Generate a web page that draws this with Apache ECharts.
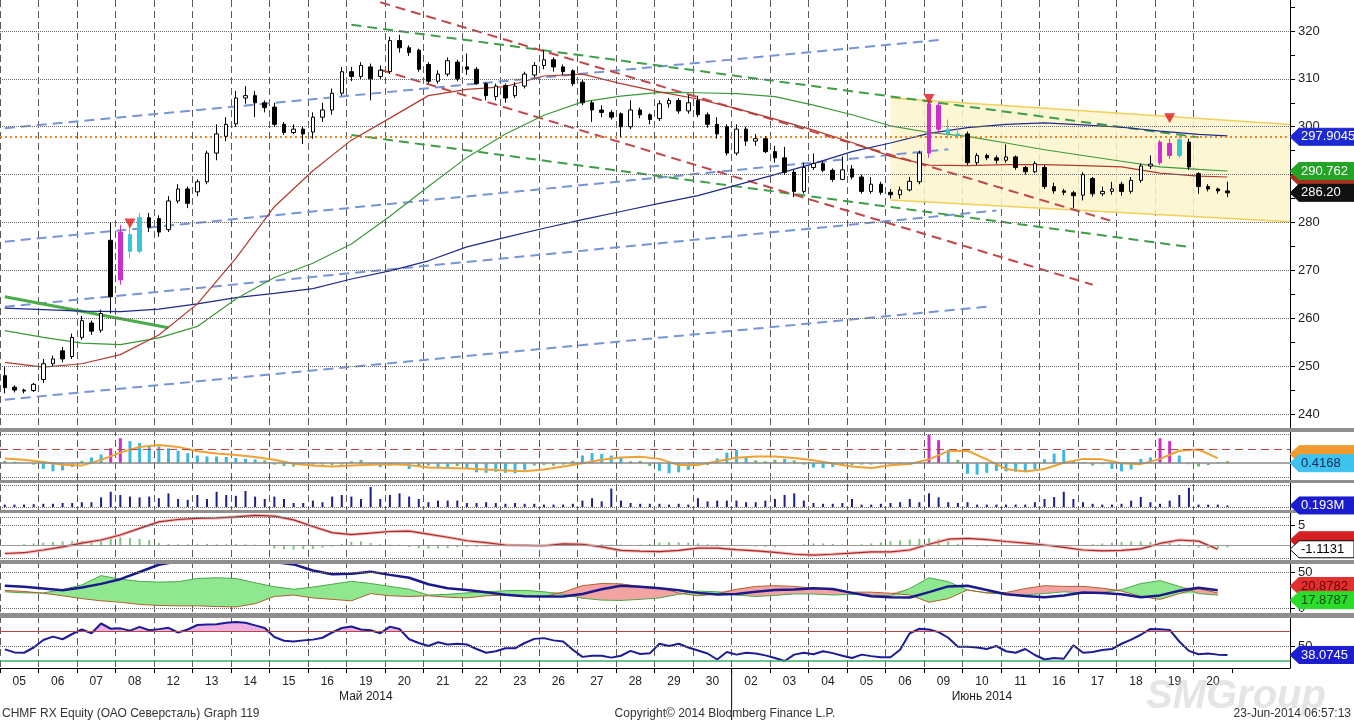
<!DOCTYPE html>
<html><head><meta charset="utf-8">
<script src="https://cdn.jsdelivr.net/npm/echarts@6/dist/echarts.min.js"></script>
<style>html,body{margin:0;padding:0;background:#fff}#c{width:1354px;height:723px}</style>
</head><body><div id="c"></div>
<script>
// ---------------- DATA ----------------
const dayLabels = ['05','06','07','08','12','13','14','15','16','19','20','21','22','23','26','27','28','29','30','02','03','04','05','06','09','10','11','16','17','18','19','20'];
const monthLabels = ['Май 2014','Июнь 2014'];
const monthStartDay = [0, 19];
const priceTicks = [240,250,260,270,280,290,300,310,320];
const oscTicks = [5];
const dmiTicks = [0, 50];
const rsiTicks = [50];

// 4 bars per trading day: [open, close, low, high]
const candles = [
[248,245.5,244.3,249.8],[245.6,245,244.5,246],[245,244.8,244.3,245.3],[244.9,246.2,244.6,246.5],
[247.2,250.5,246.5,251.5],[250.5,251.5,250,252.2],[253.2,251.5,250.8,254],[252,256,251.5,256.8],
[256,259.5,255.5,260.5],[259,257.3,256.5,259.5],[257.5,261,257,261.8],[276.3,264.5,261,280],
[268,278,267,279.5],[277.5,274,272.5,279],[274,281,273.5,282],[281,279,278,282],
[280.8,278,277,281.5],[278.5,284.5,278,285.5],[284.5,287,284,288],[287,284,283,287.5],
[286.4,288.5,285.5,289],[288.5,294.5,288,295],[294.5,298.5,293,300.5],[298,300.5,297,302],
[300.6,306,300,307.5],[306,306.5,304.8,308.5],[306.5,305,302,307.5],[305,304,303,305.5],
[304.1,300.5,300,305],[300.5,298.8,298.3,301],[298.8,299.5,298.5,300.5],[299.5,298.5,296.4,300],
[298.9,302,297.5,303],[302,303.5,301,305],[303.5,307,302.5,308],[307,311.5,306.5,312.5],
[311.5,310.5,309.5,312.5],[310.5,312.8,310,313.5],[312.5,310,305.5,313.2],[310.5,311.8,310,312.8],
[311.5,318,311,318.8],[318,316.5,315.5,319.2],[316.5,315.5,314.8,317],[316,312,311.5,316.3],
[313,309.5,309,313.5],[309.5,311,309,311.8],[311,313.8,310.5,314.5],[313.5,310,309.5,314],
[312.5,312,310.8,315.3],[312,309,308.8,312.5],[309,306.5,305.5,309.3],[306.3,308.5,305.5,309],
[308.6,306,305,309],[306.5,308.5,306,309.3],[308.5,311,308,311.5],[310.8,312.8,310.3,313.5],
[312.8,314,312,316],[314,312.5,311.5,314.5],[312.5,311.5,310.8,313],[311.7,309,308.5,312],
[309.3,305,304.5,309.8],[305,303.5,301,305.5],[303.5,303,302,304.5],[303,302,301.5,303.5],
[302.7,300,297.9,303],[300,303.5,299.5,305.5],[303.5,302.5,301.8,304],[302.5,301.5,300.5,302.8],
[301.7,304.8,301.2,305.5],[304.8,305.5,304,306],[305.5,303.3,302.7,306],[303.3,305,302.7,306.6],
[305.5,302.5,302,306.5],[302.5,300.5,299.8,303],[300.5,298.5,297.5,302],[300,294.5,294,300.5],
[294.5,299.5,294,300.5],[299.5,297,296,300],[297,297.5,296,298.5],[297.5,294.8,294.5,298],
[294.8,293.5,292.5,296],[293.5,290.5,290,295.8],[290.5,286.5,285.3,291],[286.5,291.5,286,292.5],
[291.5,292.3,291,294.4],[292.3,290.9,290.5,292.8],[290.9,289,288.5,291.3],[289,291,288.8,293.8],
[291.2,289.5,289,292],[289.5,286.5,286,290],[286.5,288,286,289.5],[288,286.3,285.8,288.5],
[286.3,285.8,285,287],[285.8,286.8,285,287.5],[286.8,288.6,286.5,289.5],[288.5,294.5,288,295],
[294.5,304.8,293.5,305.5],[304.5,299.5,298.5,305],[299.5,298.5,297.5,301.5],[298.5,298.2,297.5,300],
[298.5,292.5,292,299],[292.5,294,292,294.5],[294,293.5,293,294.4],[293.5,293,292.3,294],
[293,293.7,292.5,296.3],[293.7,291.5,291,294],[291.5,290.6,290,291.8],[290.6,292.3,290.3,292.8],
[291.5,287.5,287,292],[287.5,286.6,286,288.3],[286.6,286.3,285.7,287],[286.2,285.6,283,286.6],
[285.7,290,284.6,290.5],[289.2,286,285.4,289.5],[286,286.5,285.5,287.5],[286.5,287,285.8,288.5],
[288,286.5,285.6,288.5],[286.5,288.8,286,289.5],[288.8,291.8,288.3,292.3],[291.8,292.2,291.2,294],
[292.5,296.8,292,297.2],[296.5,294,293.3,297.5],[294,297.3,293.5,298.3],[296.8,291.6,291,297.5],
[290.2,287.5,286,290.5],[287.5,287,286.5,288],[287,286.6,286,287.3],[286.6,286.2,285.3,288.5]
];
const magentaIdx = [12, 96, 97, 120, 121];
const cyanIdx = [13, 14, 98, 99, 122];
const signalMarks = [[13, 279.8], [96, 305.8], [121, 301.8]];

// moving averages, one value per day (+ final value)
const redMA   = [250.8,249.8,250.5,252.4,256.5,263,272.5,283.3,290.8,297.2,301.8,306.5,307.8,308.4,310.6,311,309,307.3,305.8,303.8,301.6,299.3,296.7,293.8,292,291.9,292.1,292.1,291.9,291.6,290.3,289.7,289.5];
const greenMA = [257.4,256,254.8,254.5,255.9,258.3,264,268.5,271.5,275.5,281.3,287.5,293.6,298.5,302.4,305.2,306.4,307.2,307.1,306.9,306.3,304.5,302.5,300.2,298.8,298,296.6,295.2,294,292.8,291.6,291.1,290.762];
const navyMA  = [262.1,261.8,261.5,261.4,261.9,263,264.3,265.2,266.2,268.2,269.9,272,274.9,276.9,278.8,280.6,282.3,284,285.6,287.8,290,292.3,294.8,296.6,298.6,299.8,300.5,300.8,300.4,299.9,299.1,298.4,298.1];
const levelLine = 297.9045;

// trend lines [[bar, price],[bar, price]]
const blueLines = [
  [[0,299.7],[97,318.1]],
  [[0,276.0],[98,295.3]],
  [[0,262.4],[103,282.5]],
  [[0,243.0],[102,262.4]]
];
const greenLines = [
  [[36,321.3],[124,297.8]],
  [[36,298.3],[123,274.9]]
];
const redLines = [
  [[39,326.0],[115,280.3]],
  [[39,311.9],[113,267.0]]
];
const greenSolidLine = [[0,264.5],[17,258.0]];
const channelTop = [[92,306.0],[134,300.4]];
const channelBottom = [[92,284.7],[134,280.1]];

// panel 2: histogram per bar, signal per half day
const macdHist = [0.5,0.3,0.1,-0.3,-1.2,-1.7,-1.5,-0.8,0.5,1.2,
1.8,3.1,5.2,4.6,4.2,3.8,3.5,3.1,2.6,2.1,
1.6,1.4,1.4,1.3,1.1,0.9,0.8,0.6,-0.3,-0.6,
-0.7,-0.4,-0.3,-0.3,-0.4,-0.3,0.4,0.7,-0.3,-0.8,
-0.5,-0.4,-1.2,-0.6,-0.5,-0.8,-1.1,-0.6,-1.2,-1.9,
-2.0,-1.8,-2.0,-2.1,-1.4,-0.5,-0.4,-0.5,-0.3,0.5,
1.6,2.1,1.9,1.6,1.1,0.4,0.5,-0.6,-1.6,-2.1,
-1.9,-1.4,-0.6,-0.4,1.0,2.2,2.8,1.3,0.6,0.4,
0.7,0.9,0.6,-0.3,-0.9,-1.0,-0.8,-0.6,-0.4,-0.3,
-0.3,-0.2,-0.3,-0.3,-0.4,0.3,5.9,4.8,2.8,0.7,
-2.2,-2.4,-2.0,-1.6,-1.7,-1.8,-1.7,-1.2,0.8,2.0,
2.8,0.6,0.2,-0.5,-0.2,-1.2,-1.7,-1.3,0.9,1.2,
5.2,4.6,1.6,-0.2,-0.7,-0.4,0.2,0.4168];
const macdSignal = [1.0,0.7,0.25,-0.3,-0.5,0.7,2.2,3.4,3.8,3.4,
2.5,2.0,1.7,1.3,0.7,-0.1,-0.5,-0.7,-0.5,-0.3,
-0.2,-0.4,-0.9,-1.0,-1.1,-1.3,-1.5,-1.7,-1.3,-0.7,
0.0,0.7,1.2,1.35,0.9,-0.4,-0.4,0.4,1.15,1.4,
1.4,1.1,0.6,-0.05,-0.7,-1.0,-0.45,-0.15,0.8,2.5,
2.6,0.8,-1.2,-1.75,-1.2,0.1,0.9,0.8,0.0,-0.2,
0.9,2.6,2.85,1.05];

// panel 3: volume (millions) per bar
const volume = [0.3,0.3,0.3,0.35,0.4,0.4,0.5,0.5,0.6,0.6,
1.2,1.9,1.5,1.3,1.2,1.3,1.1,1.7,1.0,0.9,
1.5,1.0,1.9,1.5,1.4,2.0,1.3,1.0,1.3,1.0,
0.5,0.5,0.8,0.6,1.3,1.5,1.3,1.0,2.5,1.0,
1.5,1.7,1.3,1.0,0.6,0.8,0.8,0.8,0.5,0.5,
0.6,0.5,0.4,0.5,0.4,0.4,0.3,0.3,0.3,0.4,
0.8,1.1,0.7,2.3,0.8,0.5,0.4,0.4,0.4,0.3,
0.4,0.3,1.1,0.7,0.8,0.8,0.8,0.6,0.6,0.8,
1.0,1.5,1.7,0.8,0.5,0.4,0.4,0.5,1.0,0.3,
0.3,0.4,0.5,0.6,1.0,0.6,1.7,1.2,0.6,0.5,
0.6,0.3,0.3,0.3,0.3,0.3,0.3,0.6,1.0,1.25,
1.9,1.0,0.6,0.4,0.3,0.3,0.4,0.8,1.25,0.6,
0.4,0.8,1.5,2.4,0.3,0.3,0.3,0.193];

// panel 4: oscillator line per half day, dotted histogram per bar
const oscLine = [-2.2,-2.0,-1.3,-0.5,0.5,1.3,2.6,4.3,6.0,6.6,
6.9,7.0,7.3,7.7,7.5,6.5,4.8,3.2,2.7,3.1,
3.5,3.6,2.8,2.0,1.1,0.6,0.0,-0.1,-0.2,0.3,
0.2,-0.5,-1.4,-1.6,-1.7,-1.4,-0.8,-0.8,-1.2,-1.5,
-1.9,-2.4,-2.6,-2.4,-2.1,-1.8,-1.8,-1.3,0.2,1.5,
1.7,1.4,0.9,0.5,0.0,-0.6,-1.3,-1.5,-1.4,-1.0,
0.4,1.3,1.0,-1.1131];
const oscHist = [0,0,0.2,0.4,0.6,0.8,0.9,1.0,1.1,1.3,
1.6,2.2,2.0,1.8,1.6,1.3,0.5,0.3,0.2,0.2,
0.2,0.3,0.2,0.2,0.3,0.2,0.1,0,-0.9,-1.1,
-1.2,-1.1,-1.0,-0.7,-0.4,0.3,0.8,0.9,0.5,0.2,
0.1,0.1,-0.5,-0.8,-0.9,-0.9,-0.8,-0.6,-0.5,-0.5,
-0.4,-0.3,-0.2,-0.1,0,0,0.1,0.2,0.3,0.4,
0.3,0.3,0.2,0.1,0.1,0,0.1,0.3,0.6,0.7,
0.7,0.6,0.4,0.2,0.1,0,0,-0.1,-0.4,-0.5,
-0.5,-0.3,0,0.2,0.4,0.4,0.3,0.1,0,0.2,
0.4,0.7,1.0,1.2,1.4,1.6,1.7,1.5,1.0,0.3,
-0.3,-0.4,-0.4,-0.3,-0.2,-0.1,0,0,0,-0.1,
-0.1,0,0,0.2,0.4,0.6,0.8,0.9,0.9,0.8,
0.7,0.6,0.2,-0.4,-0.7,-0.9,-0.8,-0.6];

// panel 5: ADX / DI per half day
const adx = [31,29.5,27,24.5,28.5,33.5,40,50,60,65,
68,68,68,66,64,60.5,52,47,47.5,50.5,
46,42,33,27.5,25,22,18.5,16.3,16,16,
19.5,26,31,29.5,27.5,24.5,21,18.8,19.5,22.5,
25,25.7,27.5,26.5,21,16.2,15,14.5,22,30,
30.8,25,19,16.5,15,17.5,21.5,21,19,15,
17.5,24,28,24.8];
const diPlus = [22.5,21,21,25.5,32,45,40,37,36,36.5,
41,42,41,35,29.5,26,29,33,37,34,
30,26,18,19,21,22.5,24,24.5,22.5,19,
13.5,11,10.5,12,14,19,23.5,22.5,18,16,
17.5,19.5,19.5,18,19,18,17,27,42,36.5,
25,21,19,18.5,20,22.5,21,21.5,25.5,34,
38,30,20,17.8787];
const diMinus = [24.5,23,20.5,17,13,10,8,5,3.5,3,
3,2,1.5,6,16,18,14,12,10,20,
17,16,17,15,14,17,18,17.5,16,22,
31,34,33.5,30,28,21,17,19.5,26,30,
31,30,27.5,25,22,22,20.5,18,8,13,
25,21,21.5,27,31,30,30,27.5,23.5,16,
12,20,27,20.8782];

// panel 6: RSI per bar
const rsi = [45.5,41.5,41,48,58,62.5,59,66,72,67,
80,73,73.5,70.5,75.5,71,72.5,74.3,68,72,
78,78.5,79,81,82,81,77.5,74,62,57,
56,57.5,58.5,61,68,74,76,72,71,67,
75.8,72.7,59,54,50,55,52,53,52,46,
41,43,47,47,54,59.5,60.5,57.5,56,45,
35.5,37,37,34.5,37,43.5,39.3,40.2,53,50,
53,48,44,40,32,42,38.5,41,40,37.5,
34,30,38.5,41,39,43,40.5,37,34,38.5,
36.5,35,35,45,66.9,73,72,68.5,61,49,
49,48,46,50,43,41,46,38,32,34,
33,51,41,42,44.7,46,53,58.5,65,72.7,
72.3,71.5,56,43.5,39,40,38.5,38.0745];

// ---------------- LAYOUT ----------------
const FONT = "'Liberation Sans', Arial, sans-serif";
const PLOT_R = 1290, W = 1354;
const SPD = 4;
const nDays = dayLabels.length;
const nSlots = nDays * SPD + 6;
const slotCats = Array.from({length: nSlots}, (_, i) => String(i));
const halfCats = Array.from({length: nSlots / 2 + 1}, (_, i) => String(i));
const last = a => a[a.length - 1];

const panels = [
  {top: 0,   height: 428, min: 237.076, max: 326.475, labels: priceTicks},
  {top: 432, height: 48,  min: -3.5,    max: 6.5,     labels: null},
  {top: 483, height: 27,  min: -0.375,  max: 3.0,     labels: null},
  {top: 513, height: 47,  min: -3.886,  max: 8.29,    labels: oscTicks},
  {top: 564, height: 49,  min: -6.94,   max: 61.1,    labels: dmiTicks},
  {top: 618, height: 50,  min: 20.67,   max: 87.33,   labels: rsiTicks}
];

const grids = [{left: 0, right: W - PLOT_R, top: 0, height: 668, outerBoundsMode: 'none'}]
  .concat(panels.map(p => ({left: 0, right: W - PLOT_R, top: p.top, height: p.height, outerBoundsMode: 'none'})));

const minorPrice = [];
for (let v = priceTicks[0]; v <= last(priceTicks) + 5; v += 5) minorPrice.push(v);

const xAxes = [{
  type: 'category', gridIndex: 0, data: halfCats, boundaryGap: false, position: 'bottom',
  axisLine: {show: true, lineStyle: {color: '#000', width: 1}},
  axisTick: {show: true, length: 5, interval: (i) => i % 2 === 0 && i <= 2 * nDays, lineStyle: {color: '#000'}},
  axisLabel: {interval: (i) => i % 2 === 1 && i < 2 * nDays,
    formatter: (v, i) => (i % 2 === 1 && i < 2 * nDays) ? dayLabels[(i - 1) / 2] : '',
    color: '#222', fontSize: 12, margin: 8, fontFamily: FONT},
  splitLine: {show: true, interval: (i) => i % 2 === 0 && i <= 2 * nDays - 2, lineStyle: {color: '#5a5a5a', type: [7, 4], width: 1}}
}].concat(panels.map((p, i) => ({type: 'category', gridIndex: i + 1, data: slotCats, boundaryGap: true, show: false})));

const yAxes = [{type: 'value', gridIndex: 0, show: false, min: 0, max: 1}]
  .concat(panels.map((p, i) => ({
    type: 'value', gridIndex: i + 1, position: 'right', min: p.min, max: p.max, scale: true,
    axisLine: {show: true, lineStyle: {color: '#000', width: 1}},
    splitLine: {show: false},
    axisTick: p.labels ? {show: true, length: 5, lineStyle: {color: '#000'}, customValues: i === 0 ? minorPrice : p.labels} : {show: false},
    axisLabel: p.labels ? {show: true, customValues: p.labels, color: '#222', fontSize: 13, margin: 8, fontFamily: FONT} : {show: false}
  })));

function hline(value, color, type, width) {
  return {yAxis: value, lineStyle: {color, type, width}};
}
function levelSeries(g, lines, z) {
  return {type: 'line', xAxisIndex: g, yAxisIndex: g, data: [], silent: true, z: z || 1,
    markLine: {symbol: 'none', silent: true, animation: false, label: {show: false}, data: lines}};
}
function seg(g, pts, color, width, type, z) {
  return {type: 'line', xAxisIndex: g, yAxisIndex: g, data: pts, symbol: 'none', silent: true,
    lineStyle: {color, width, type}, z: z || 3};
}

const DOT = '#6a6a6a';
const series = [];
series.push({type: 'line', xAxisIndex: 0, yAxisIndex: 0, data: [], silent: true});

// main panel: yellow channel
series.push({
  type: 'custom', xAxisIndex: 1, yAxisIndex: 1, clip: true, silent: true, z: 1,
  data: [[channelTop[0][0], channelTop[0][1], channelTop[1][0], channelTop[1][1], channelBottom[0][1], channelBottom[1][1]]],
  encode: {x: [0, 2], y: [1, 3, 4, 5]},
  renderItem: (params, api) => {
    const a = api.coord([api.value(0), api.value(1)]);
    const b = api.coord([api.value(2), api.value(3)]);
    const c = api.coord([api.value(2), api.value(5)]);
    const d = api.coord([api.value(0), api.value(4)]);
    return {type: 'group', children: [
      {type: 'polygon', shape: {points: [a, b, c, d]}, style: {fill: 'rgba(252,244,206,0.85)'}},
      {type: 'polyline', shape: {points: [a, b]}, style: {stroke: '#f1cf5a', lineWidth: 1.5, fill: null}},
      {type: 'polyline', shape: {points: [d, c]}, style: {stroke: '#f1cf5a', lineWidth: 1.5, fill: null}}
    ]};
  }
});
// main grid dotted lines + level line
series.push(levelSeries(1, priceTicks.map(v => hline(v, DOT, 'dotted', 1))
  .concat([hline(levelLine, '#e5862a', [2, 3], 2)]), 2));

blueLines.forEach(l => series.push(seg(1, l, '#7894d6', 2, [10, 6], 3)));
greenLines.forEach(l => series.push(seg(1, l, '#3d9f45', 2, [10, 6], 3)));
redLines.forEach(l => series.push(seg(1, l, '#c2464a', 2, [10, 6], 3)));
series.push(seg(1, greenSolidLine, '#48ac48', 3, 'solid', 3));

const maPts = arr => arr.map((v, i) => [Math.min(i * SPD, nDays * SPD - 1), v]);
series.push(seg(1, maPts(navyMA), '#1f2a8c', 1.2, 'solid', 4));
series.push(seg(1, maPts(greenMA), '#3a9a3a', 1.2, 'solid', 4));
series.push(seg(1, maPts(redMA), '#b33a2c', 1.2, 'solid', 4));

const MAG = '#cc2fcc', CYA = '#36c6d6';
series.push({
  type: 'candlestick', xAxisIndex: 1, yAxisIndex: 1, barWidth: 4, z: 6, silent: true,
  itemStyle: {color: '#ffffff', color0: '#000000', borderColor: '#000000', borderColor0: '#000000', borderWidth: 1},
  data: candles.map((c, i) => {
    const col = magentaIdx.includes(i) ? MAG : (cyanIdx.includes(i) ? CYA : null);
    return col ? {value: c, itemStyle: {color: col, color0: col, borderColor: col, borderColor0: col}} : c;
  })
});
series.push({type: 'scatter', xAxisIndex: 1, yAxisIndex: 1, data: signalMarks, symbol: 'triangle', symbolRotate: 180,
  symbolSize: [11, 10], itemStyle: {color: '#e3151d'}, z: 8, silent: true});

// panel 2
series.push(levelSeries(2, [hline(6, DOT, 'dotted', 1), hline(-3, DOT, 'dotted', 1),
  hline(3, '#c8403c', [8, 5], 1), hline(0, '#8a8a8a', 'solid', 1.5)]));
series.push({type: 'bar', xAxisIndex: 2, yAxisIndex: 2, data: macdHist, barWidth: 3, silent: true, z: 3,
  itemStyle: {color: p => magentaIdx.includes(p.dataIndex) || (p.value > 2.9 && p.dataIndex < 12) ? MAG : (Math.abs(p.value) >= 0.8 ? '#3cb7e0' : '#6dbb6d')}});
series.push(seg(2, macdSignal.map((v, i) => [2 * i, v]), '#eea235', 2, 'solid', 4));

// panel 3
series.push(levelSeries(3, [hline(2.75, DOT, 'dotted', 1), hline(0, DOT, 'dotted', 1)]));
series.push({type: 'bar', xAxisIndex: 3, yAxisIndex: 3, data: volume, barWidth: 2, silent: true, z: 3,
  itemStyle: {color: '#1b1f86'}});

// panel 4
series.push(levelSeries(4, [hline(7.25, DOT, 'dotted', 1), hline(5, DOT, 'dotted', 1), hline(-3.4, DOT, 'dotted', 1),
  hline(0, '#9a9a9a', 'solid', 1.2)]));
series.push({type: 'bar', xAxisIndex: 4, yAxisIndex: 4, data: oscHist, barWidth: 2, silent: true, z: 3,
  itemStyle: {color: '#78c878'}});
series.push(seg(4, oscLine.map((v, i) => [2 * i, v]), '#f5b5b5', 3, 'solid', 3));
series.push(seg(4, oscLine.map((v, i) => [2 * i, v]), '#a82a2a', 1.2, 'solid', 4));

// panel 5
series.push(levelSeries(5, [hline(50, DOT, 'dotted', 1), hline(0, DOT, 'dotted', 1)]));
series.push({type: 'line', xAxisIndex: 5, yAxisIndex: 5, stack: 'dmi', symbol: 'none', silent: true, z: 2,
  lineStyle: {opacity: 0}, data: diPlus.map((a, i) => [2 * i, Math.min(a, diMinus[i])])});
series.push({type: 'line', xAxisIndex: 5, yAxisIndex: 5, stack: 'dmi', symbol: 'none', silent: true, z: 2,
  lineStyle: {opacity: 0}, areaStyle: {color: '#8fe88f', opacity: 1},
  data: diPlus.map((a, i) => [2 * i, Math.max(a - diMinus[i], 0)])});
series.push({type: 'line', xAxisIndex: 5, yAxisIndex: 5, stack: 'dmi', symbol: 'none', silent: true, z: 2,
  lineStyle: {opacity: 0}, areaStyle: {color: '#f4a3a3', opacity: 1},
  data: diMinus.map((b, i) => [2 * i, Math.max(b - diPlus[i], 0)])});
series.push(seg(5, diPlus.map((v, i) => [2 * i, v]), '#4aa84a', 1, 'solid', 3));
series.push(seg(5, diMinus.map((v, i) => [2 * i, v]), '#b0602e', 1, 'solid', 3));
series.push(seg(5, adx.map((v, i) => [2 * i, v]), '#1a1a8e', 2.5, 'solid', 4));

// panel 6
series.push(levelSeries(6, [hline(70, '#b84848', 'solid', 1), hline(50, DOT, 'dotted', 1), hline(30, '#3fae6a', 'solid', 1.5)]));
series.push({type: 'line', xAxisIndex: 6, yAxisIndex: 6, stack: 'rsi', symbol: 'none', silent: true, z: 2,
  lineStyle: {opacity: 0}, data: rsi.map((v, i) => [i, Math.min(v, 70)])});
series.push({type: 'line', xAxisIndex: 6, yAxisIndex: 6, stack: 'rsi', symbol: 'none', silent: true, z: 2,
  lineStyle: {opacity: 0}, areaStyle: {color: '#eeb0e0', opacity: 1}, data: rsi.map((v, i) => [i, Math.max(v - 70, 0)])});
series.push(seg(6, rsi.map((v, i) => [i, v]), '#1c1c96', 2, 'solid', 4));

const chart = echarts.init(document.getElementById('c'));
chart.setOption({
  animation: false,
  backgroundColor: '#ffffff',
  textStyle: {fontFamily: FONT},
  grid: grids, xAxis: xAxes, yAxis: yAxes, series: series
});

// ---------------- overlay graphics ----------------
const yPix = (k, v) => chart.convertToPixel({yAxisIndex: k}, v);
const xHalf = j => chart.convertToPixel({xAxisIndex: 0}, j);
function tag(y, text, bg, fg, border) {
  return {type: 'group', z: 200, zlevel: 1, children: [
    {type: 'polygon', z: 200, zlevel: 1, shape: {points: [[PLOT_R, y], [PLOT_R + 9, y - 8.5], [W, y - 8.5], [W, y + 8.5], [PLOT_R + 9, y + 8.5]]},
      style: {fill: bg, stroke: border || bg, lineWidth: 1}},
    {type: 'text', z: 201, zlevel: 1, x: PLOT_R + 11, y: y, style: {text: text, fill: fg, font: '13px ' + FONT, align: 'left', verticalAlign: 'middle'}}
  ]};
}
const g = [];
[[428, 4], [480, 3], [510, 3], [560, 4], [613, 5]].forEach(r =>
  g.push({type: 'rect', z: 110, shape: {x: 0, y: r[0], width: W, height: r[1]}, style: {fill: '#8f8f8f'}}));

const lastClose = last(candles)[1];
g.push(tag(yPix(1, last(redMA)), '', '#a83220', '#fff'));
g.push(tag(yPix(1, last(greenMA)), last(greenMA).toFixed(3), '#24a424', '#ffffff'));
g.push(tag(yPix(1, levelLine), levelLine.toFixed(4), '#1d29d2', '#ffffff'));
g.push(tag(yPix(1, lastClose), lastClose.toFixed(2), '#111111', '#ffffff'));
g.push(tag(yPix(2, last(macdSignal)) - 4, '', '#f09a30', '#fff'));
g.push(tag(yPix(2, last(macdHist)) + 2, last(macdHist).toFixed(4), '#3fc2ee', '#0b2a5a'));
g.push(tag(yPix(3, last(volume)), last(volume).toFixed(3) + 'M', '#1b1bcf', '#ffffff'));
g.push(tag(yPix(4, last(oscLine)) - 9, '', '#d42020', '#fff'));
g.push(tag(yPix(4, last(oscLine)), last(oscLine).toFixed(4), '#ffffff', '#000000', '#000000'));
g.push(tag(yPix(5, last(diMinus)) - 7, last(diMinus).toFixed(4), '#e23030', '#6a0000'));
g.push(tag(yPix(5, last(diPlus)) + 5, last(diPlus).toFixed(4), '#2bdc2b', '#0a4a0a'));
g.push(tag(yPix(6, last(rsi)), last(rsi).toFixed(4), '#1c1cd0', '#ffffff'));

// month labels + separator
monthLabels.forEach((m, i) => {
  const from = monthStartDay[i] * 2, to = (i + 1 < monthStartDay.length ? monthStartDay[i + 1] : nDays) * 2;
  g.push({type: 'text', x: xHalf((from + to) / 2), y: 697, z: 100,
    style: {text: m, fill: '#222', font: '12px ' + FONT, align: 'center', verticalAlign: 'middle'}});
});
const sepX = xHalf(monthStartDay[1] * 2);
g.push({type: 'line', shape: {x1: sepX, y1: 668, x2: sepX, y2: 720}, style: {stroke: '#000', lineWidth: 1}, z: 100});

g.push({type: 'text', x: 1236, y: 697, z: 90,
  style: {text: 'SMGroup', fill: 'rgba(190,190,190,0.4)', font: 'italic bold 40px ' + FONT, align: 'center', verticalAlign: 'middle'}});
g.push({type: 'text', x: 2, y: 714, z: 100,
  style: {text: 'CHMF RX Equity (ОАО Северсталь) Graph 119', fill: '#333', font: '12px ' + FONT, align: 'left', verticalAlign: 'middle'}});
g.push({type: 'text', x: 725, y: 714, z: 100,
  style: {text: 'Copyright© 2014 Bloomberg Finance L.P.', fill: '#333', font: '12px ' + FONT, align: 'center', verticalAlign: 'middle'}});
g.push({type: 'text', x: 1351, y: 714, z: 100,
  style: {text: '23-Jun-2014 06:57:13', fill: '#333', font: '12px ' + FONT, align: 'right', verticalAlign: 'middle'}});

chart.setOption({graphic: g});
</script>
</body></html>
